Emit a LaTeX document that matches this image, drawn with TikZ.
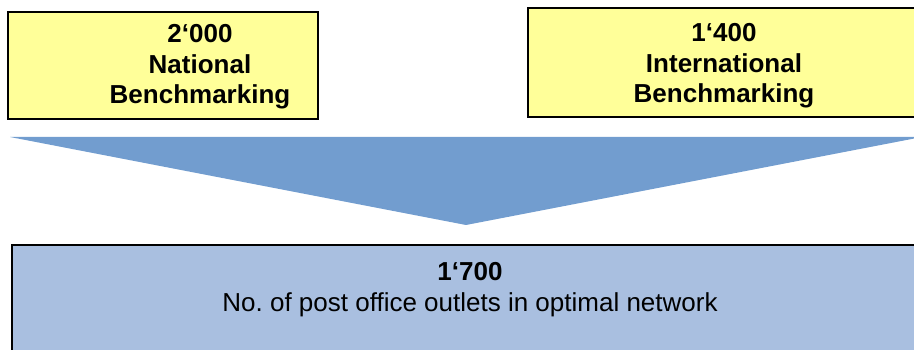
\documentclass[tikz,border=0pt]{standalone}
\usepackage{fontspec}
\setmainfont{Liberation Sans}
\frenchspacing
\definecolor{boxyellow}{HTML}{FFFF99}
\definecolor{arrowblue}{HTML}{729DCF}
\definecolor{resultblue}{HTML}{A9BFE0}
\begin{document}
\begin{tikzpicture}[x=1pt,y=-1pt,
  yellowbox/.style={fill=boxyellow,draw=black,line width=1.2pt},
  resultbox/.style={fill=resultblue,draw=black,line width=1.2pt},
  bigbold/.style={font=\fontsize{26}{30.5}\selectfont\bfseries,align=center,inner sep=0pt},
  bignormal/.style={font=\fontsize{26}{31}\selectfont,align=center,inner sep=0pt}]
\useasboundingbox (0,0) rectangle (914,350);
\clip (0,0) rectangle (914,350);
\draw[yellowbox] (8,12) rectangle (318,119);
\draw[yellowbox] (528,8) rectangle (930,117);
\fill[arrowblue] (10,137) -- (922,137) -- (466,225) -- cycle;
\draw[resultbox] (12,245) rectangle (940,370);
\node[bigbold] (nat) at (200,67) {2‘000\\National\\Benchmarking};
\node[bigbold] (int) at (724,66) {1‘400\\International\\Benchmarking};
\node[bignormal] (res) at (470,290) {\textbf{1‘700}\\No.\ of post office outlets in optimal network};
\end{tikzpicture}
\end{document}
